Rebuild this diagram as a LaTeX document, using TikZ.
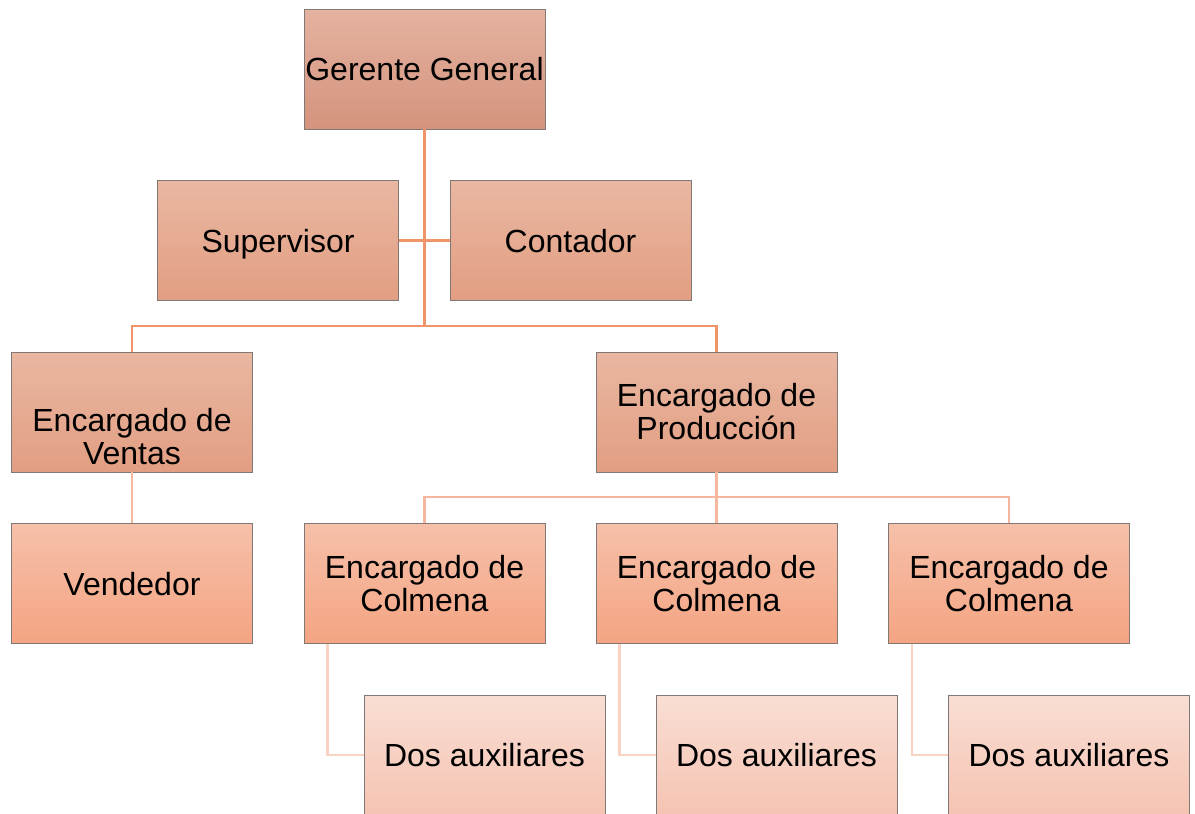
\documentclass[tikz,border=0pt]{standalone}
\usepackage{fontspec}
\setmainfont{Liberation Sans}
\usetikzlibrary{positioning,calc}
\usepackage{xcolor}

\begin{document}
\begin{tikzpicture}[x=1pt,y=-1pt]

            % BOUNDS
            \useasboundingbox (0,0) rectangle (1195,814);

            % COLORS
            \definecolor{boxline}{rgb}{0.50 0.47 0.46}
            \definecolor{top_lvl0}{HTML}{E4B3A0}
            \definecolor{bot_lvl0}{HTML}{D4937D}
            \definecolor{top_lvl1}{HTML}{E9B7A2}
            \definecolor{bot_lvl1}{HTML}{E29E82}
            \definecolor{top_lvl2}{HTML}{F6C0AA}
            \definecolor{bot_lvl2}{HTML}{F4A482}
            \definecolor{top_lvl3}{HTML}{F9DED4}
            \definecolor{bot_lvl3}{HTML}{F5C3B2}
            \definecolor{edge_lvl0}{HTML}{F0956A}
            \definecolor{edge_lvl1}{HTML}{F5B89E}
            \definecolor{edge_lvl2}{HTML}{FAD2C4}

            % DEF STYLES
            \tikzstyle{box} = [draw=boxline, line width=0.8pt, minimum width=241pt, minimum height=120pt, inner sep=0pt, align=center, font=\fontsize{32}{33}\selectfont]
            \tikzstyle{oneline} = [text depth=0pt]
            \tikzstyle{box_lvl0} = [box, top color=top_lvl0, bottom color=bot_lvl0]
            \tikzstyle{box_lvl1} = [box, top color=top_lvl1, bottom color=bot_lvl1]
            \tikzstyle{box_lvl2} = [box, top color=top_lvl2, bottom color=bot_lvl2]
            \tikzstyle{box_lvl3} = [box, top color=top_lvl3, bottom color=bot_lvl3]
            \tikzstyle{edge_0} = [line width=2.6pt, color=edge_lvl0]
            \tikzstyle{edge_1} = [line width=2.6pt, color=edge_lvl1]
            \tikzstyle{edge_2} = [line width=2.6pt, color=edge_lvl2]

            % DEF COORDINATES
            \coordinate (bus_top) at (424.5, 326);
            \coordinate (bus_prod) at (716.5, 497);

            % POINTS
            \node[box_lvl0, oneline] (ger) at (424.5, 69) {Gerente General};
            \node[box_lvl1, oneline] (sup) at (278, 240.5) {Supervisor};
            \node[box_lvl1, oneline] (cont) at (570.5, 240.5) {Contador};
            \node[box_lvl1] (ventas) at (132, 412) {\raisebox{-29pt}[\height][\depth]{\begin{tabular}{@{}c@{}}Encargado de\\Ventas\end{tabular}}};
            \node[box_lvl1] (prod) at (716.5, 412) {Encargado de\\Producción};
            \node[box_lvl2, oneline] (vend) at (132, 583.5) {Vendedor};
            \foreach \i/\x in {1/424.5,2/716.5,3/1009} {
              \node[box_lvl2] (col\i) at (\x, 583.5) {Encargado de\\Colmena};
            }
            \foreach \i/\x in {1/484.5,2/776.5,3/1069} {
              \node[box_lvl3, oneline] (aux\i) at (\x, 755) {Dos auxiliares};
            }

            % EDGES
            \draw[edge_0] (ger.south) -- (bus_top);
            \draw[edge_0] (sup.east) -- (cont.west);
            \draw[edge_0] (bus_top) -| (ventas.north);
            \draw[edge_0] (bus_top) -| (prod.north);
            \draw[edge_1] (ventas.south) -- (vend.north);
            \draw[edge_1] (prod.south) -- (col2.north);
            \foreach \k in {1,3} {
              \draw[edge_1] (bus_prod) -| (col\k.north);
            }
            \foreach \k in {1,2,3} {
              \draw[edge_2] ([xshift=24pt]col\k.south west) |- (aux\k.west);
            }

          \end{tikzpicture}
\end{document}
